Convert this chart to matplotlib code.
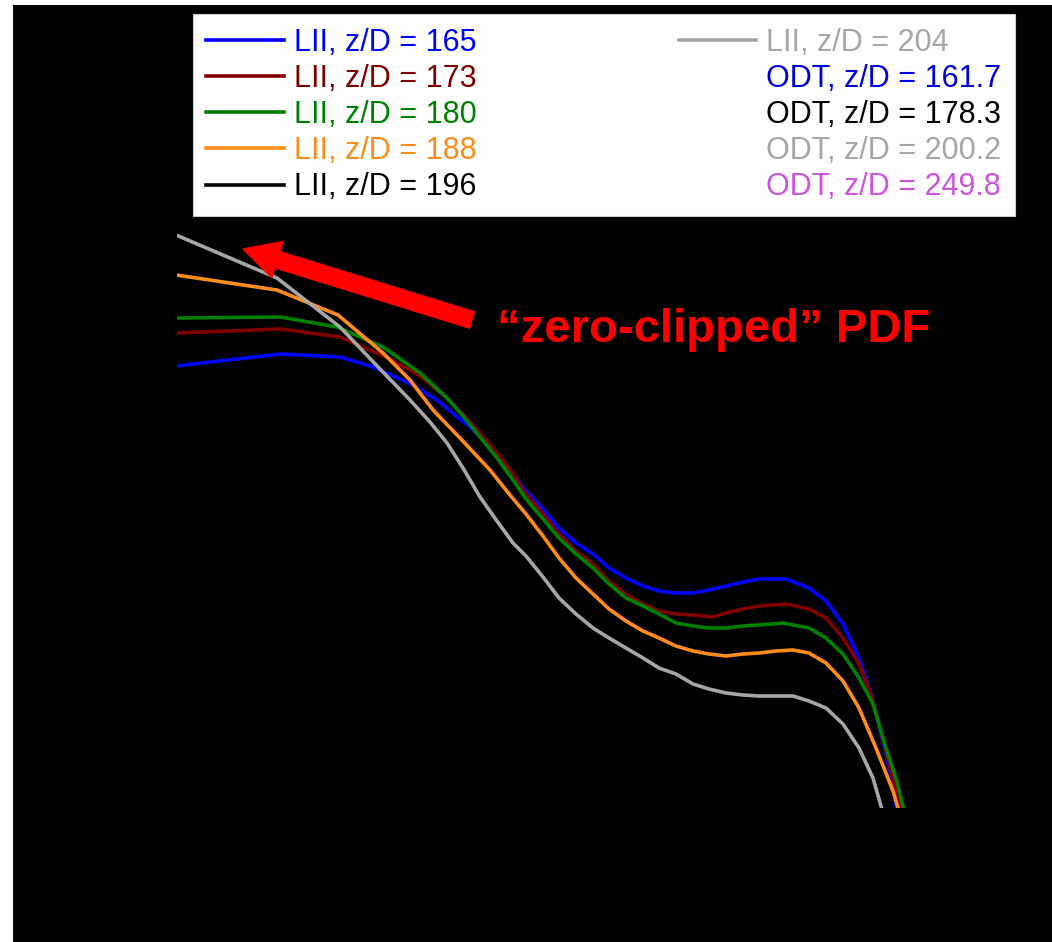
import matplotlib
matplotlib.use('Agg')
import matplotlib.pyplot as plt
from matplotlib.lines import Line2D
from matplotlib.patches import FancyArrow

plt.rcParams['font.family'] = ['Liberation Sans', 'DejaVu Sans']

# x: normalised variable, y: log10 of the PDF
x_165 = [0.00, 1.04, 1.64, 1.97, 2.37, 2.61, 2.79, 2.94, 3.14, 3.34, 3.50, 3.67, 3.83, 4.00, 4.17,
         4.33, 4.50, 4.67, 4.83, 5.00, 5.17, 5.33, 5.50, 5.67, 5.83, 6.10, 6.33, 6.50, 6.67, 6.83,
         6.97, 7.10, 7.20, 7.21]
y_165 = [-0.58, -0.46, -0.49, -0.59, -0.77, -0.92, -1.07, -1.19, -1.39, -1.62, -1.83, -2.01, -2.20,
         -2.35, -2.46, -2.60, -2.70, -2.78, -2.83, -2.85, -2.85, -2.82, -2.78, -2.74, -2.71, -2.71,
         -2.80, -2.93, -3.16, -3.50, -3.93, -4.46, -4.96, -5.04]

x_173 = [0.00, 1.04, 1.64, 2.12, 2.44, 2.71, 2.87, 3.04, 3.21, 3.37, 3.50, 3.67, 3.83, 4.00, 4.17,
         4.33, 4.50, 4.67, 4.83, 5.00, 5.17, 5.37, 5.50, 5.67, 5.83, 6.10, 6.33, 6.50, 6.67, 6.83,
         6.97, 7.10, 7.20, 7.25, 7.26]
y_173 = [-0.25, -0.21, -0.29, -0.50, -0.68, -0.90, -1.06, -1.25, -1.45, -1.66, -1.86, -2.06, -2.26,
         -2.43, -2.56, -2.73, -2.86, -2.96, -3.03, -3.06, -3.07, -3.09, -3.05, -3.01, -2.98, -2.96,
         -3.01, -3.10, -3.30, -3.56, -3.93, -4.43, -4.83, -5.00, -5.04]

x_180 = [0.00, 1.04, 1.61, 2.07, 2.44, 2.71, 2.87, 3.04, 3.21, 3.37, 3.50, 3.67, 3.83, 4.00, 4.17,
         4.33, 4.50, 4.67, 4.83, 5.00, 5.17, 5.33, 5.50, 5.67, 5.83, 6.07, 6.33, 6.50, 6.67, 6.83,
         6.97, 7.10, 7.20, 7.27, 7.28]
y_180 = [-0.10, -0.09, -0.19, -0.39, -0.65, -0.90, -1.08, -1.29, -1.50, -1.72, -1.91, -2.11, -2.30,
         -2.46, -2.60, -2.76, -2.90, -2.98, -3.06, -3.15, -3.18, -3.20, -3.20, -3.18, -3.17, -3.15,
         -3.20, -3.30, -3.46, -3.70, -3.96, -4.40, -4.70, -4.98, -5.04]

x_188 = [0.00, 1.01, 1.62, 2.07, 2.34, 2.57, 2.84, 3.14, 3.34, 3.50, 3.67, 3.83, 4.00, 4.17, 4.33,
         4.50, 4.67, 4.83, 5.00, 5.17, 5.33, 5.50, 5.67, 5.83, 6.00, 6.17, 6.33, 6.50, 6.67, 6.83,
         7.00, 7.17, 7.22, 7.24]
y_188 = [0.33, 0.18, -0.07, -0.45, -0.72, -1.02, -1.30, -1.62, -1.87, -2.06, -2.28, -2.50, -2.70,
         -2.86, -3.01, -3.13, -3.23, -3.30, -3.38, -3.43, -3.46, -3.48, -3.46, -3.45, -3.43, -3.42,
         -3.45, -3.55, -3.73, -4.00, -4.40, -4.83, -5.00, -5.06]

x_204 = [0.00, 1.01, 1.64, 2.04, 2.34, 2.54, 2.71, 2.87, 3.04, 3.21, 3.37, 3.50, 3.67, 3.83, 4.00,
         4.17, 4.33, 4.50, 4.67, 4.83, 5.00, 5.17, 5.33, 5.50, 5.67, 5.83, 6.00, 6.17, 6.33, 6.50,
         6.67, 6.83, 6.97, 7.05, 7.07]
y_204 = [0.73, 0.30, -0.19, -0.61, -0.92, -1.14, -1.35, -1.60, -1.89, -2.13, -2.35, -2.48, -2.69,
         -2.90, -3.06, -3.20, -3.30, -3.40, -3.50, -3.60, -3.66, -3.76, -3.81, -3.85, -3.87, -3.88,
         -3.88, -3.88, -3.93, -4.00, -4.16, -4.40, -4.70, -4.98, -5.04]

lii_labels = ['LII, z/D = 165', 'LII, z/D = 173', 'LII, z/D = 180', 'LII, z/D = 188',
              'LII, z/D = 196', 'LII, z/D = 204']
lii_colors = ['#0000ff', '#800000', '#008000', '#ff8c1a', '#000000', '#a6a6a6']
odt_labels = ['ODT, z/D = 161.7', 'ODT, z/D = 178.3', 'ODT, z/D = 200.2', 'ODT, z/D = 249.8']
odt_colors = ['#0000dd', '#000000', '#a6a6a6', '#cc55dd']

fig = plt.figure(figsize=(10.52, 9.42), dpi=100)
fig.patch.set_facecolor('white')

# black background panel
bg = fig.add_axes([13 / 1052, 0, 1 - 13 / 1052, 937 / 942])
bg.set_facecolor('black')
bg.set_xticks([])
bg.set_yticks([])
for s in bg.spines.values():
    s.set_visible(False)
bg.set_zorder(0)

ax = fig.add_axes([176 / 1052, (942 - 808) / 942, 820 / 1052, 580 / 942])
ax.set_facecolor('black')
ax.set_zorder(1)
for s in ax.spines.values():
    s.set_color('black')
ax.tick_params(colors='black')
ax.set_xticks([])
ax.set_yticks([])

lw = 2.6
handles = []
series = [(x_165, y_165), (x_173, y_173), (x_180, y_180), (x_188, y_188)]
for (xs, ys), lab, col in zip(series, lii_labels[:4], lii_colors[:4]):
    h, = ax.plot(xs, ys, color=col, lw=lw, label=lab)
    handles.append(h)
h196, = ax.plot([], [], color=lii_colors[4], lw=lw, label=lii_labels[4])
handles.append(h196)
h204, = ax.plot(x_204, y_204, color=lii_colors[5], lw=lw, label=lii_labels[5])
handles.append(h204)
for lab, col in zip(odt_labels, odt_colors):
    handles.append(Line2D([], [], color=col, linestyle='none', label=lab))

ax.set_xlim(0, 8.2)
ax.set_ylim(-5, 0.8)

leg = ax.legend(handles=handles, ncol=2, loc='upper right',
                bbox_to_anchor=(1015 / 1052, 928 / 942), bbox_transform=fig.transFigure,
                borderaxespad=0, fontsize=22, labelcolor='linecolor',
                handlelength=2.55, handletextpad=0.32, columnspacing=6.6,
                labelspacing=0.2, borderpad=0.45, fancybox=False,
                framealpha=1, facecolor='white', edgecolor='#cccccc')
leg.get_frame().set_linewidth(0.8)
leg.set_zorder(5)

# red arrow and note
arr = FancyArrow(4.72, 6.22, -2.29, 0.71, width=0.17, head_width=0.38, head_length=0.36,
                 length_includes_head=True, color='#ff0000', transform=fig.dpi_scale_trans)
fig.patches.append(arr)
fig.text(497 / 1052, (942 - 342) / 942, '\u201czero-clipped\u201d PDF', color='#ff0000',
         fontsize=34, fontweight='bold', ha='left', va='baseline')

fig.savefig('out.png', dpi=100, facecolor=fig.get_facecolor())
